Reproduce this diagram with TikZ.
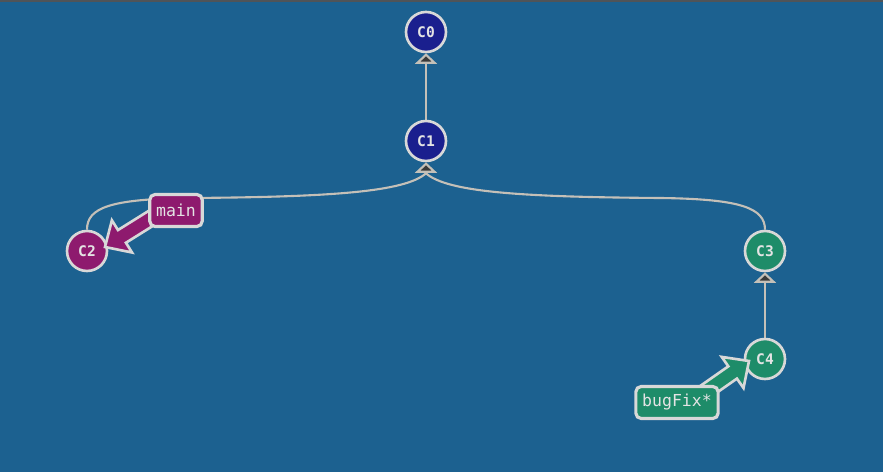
\documentclass[tikz,border=0pt]{standalone}
\usepackage{fontspec}
\usetikzlibrary{arrows.meta,calc}
\newfontfamily\monofont{DejaVu Sans Mono}

\definecolor{bgblue}{HTML}{1C6190}
\definecolor{topbar}{HTML}{505458}
\definecolor{commitblue}{HTML}{1A1F8E}
\definecolor{mainpink}{HTML}{8E1A6E}
\definecolor{fixgreen}{HTML}{1E8C69}
\definecolor{ringgray}{HTML}{D8D8D8}
\definecolor{labelgray}{HTML}{E4E4E4}
\definecolor{edgegray}{HTML}{C4C0B8}
\definecolor{tipdark}{HTML}{3A3A3A}

\pgfdeclarelayer{canvas}
\pgfdeclarelayer{links}
\pgfsetlayers{canvas,links,main}

\begin{document}
\begin{tikzpicture}[x=0.02cm, y=0.02cm,
    commit/.style={circle, draw=ringgray, line width=1.5pt, minimum size=0.8cm,
      inner sep=0pt, text=labelgray, font=\monofont\bfseries\fontsize{8.3}{9}\selectfont},
    branch/.style={draw=ringgray, line width=1.8pt, rounded corners=3pt,
      minimum height=0.64cm, inner xsep=3.6pt, text=labelgray,
      font=\monofont\fontsize{9.4}{10}\selectfont},
    edge/.style={draw=edgegray, line width=1.2pt},
    parent/.style={edge, -{Triangle[length=6pt, width=12.5pt, fill=tipdark]}},
    pointer/.style={draw=ringgray, line width=1.5pt, line join=miter}]

    % Canvas
    \begin{pgfonlayer}{canvas}
        \fill[bgblue] (0,0) rectangle (883,-472);
        \fill[topbar] (0,0) rectangle (883,-2);
    \end{pgfonlayer}
    \useasboundingbox (0,0) rectangle (883,-472);

    % Commits
    \node[commit, fill=commitblue] (c0) at (426,-32) {C0};
    \node[commit, fill=commitblue] (c1) at (426,-141) {C1};
    \node[commit, fill=mainpink] (c2) at (87,-251) {C2};
    \node[commit, fill=fixgreen] (c3) at (765,-251) {C3};
    \node[commit, fill=fixgreen] (c4) at (765,-359) {C4};

    % Parent links
    \coordinate (c1base) at ($(c1.south)+(0,-11)$);
    \begin{pgfonlayer}{links}
        \draw[edge] (c2.north) .. controls +(0,22) and (110,-199) .. (190,-198)
            .. controls (330,-197) and (405,-192) .. (c1base);
        \draw[edge] (c3.north) .. controls +(0,22) and (740,-199) .. (660,-198)
            .. controls (520,-197) and (447,-192) .. (c1base);
        \draw[parent] (c1base) -- (c1);
        \draw[parent] (c1) -- (c0);
        \draw[parent] (c4) -- (c3);
    \end{pgfonlayer}

    % Branch pointers
    \coordinate (mainTip) at ($(c2)+(18,4)$);
    \coordinate (fixTip) at ($(c4)+(-16,-2)$);
    \begin{scope}[shift={(mainTip)}, rotate=32]
        \filldraw[pointer, fill=mainpink] (0,0) -- (20,19) -- (20,7.5) -- (68,7.5)
            -- (68,-7.5) -- (20,-7.5) -- (20,-19) -- cycle;
    \end{scope}
    \begin{scope}[shift={(fixTip)}, rotate=215]
        \filldraw[pointer, fill=fixgreen] (0,0) -- (20,19) -- (20,7.5) -- (68,7.5)
            -- (68,-7.5) -- (20,-7.5) -- (20,-19) -- cycle;
    \end{scope}

    % Branch labels
    \node[branch, fill=mainpink] (main) at (176,-210.5) {main};
    \node[branch, fill=fixgreen] (bugfix) at (677,-402.5) {bugFix*};
\end{tikzpicture}
\end{document}
